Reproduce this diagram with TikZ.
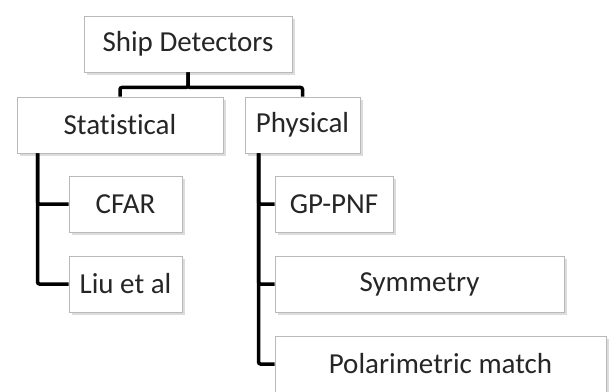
\documentclass[tikz,border=0pt]{standalone}
\usepackage{fontspec}
\setmainfont{Carlito}[Ligatures=NoCommon]
\usetikzlibrary{shadows}
\begin{document}
\begin{tikzpicture}[x=1pt,y=-1pt]
		\tikzstyle{all} = [draw=gray!55, line width=0.9pt, fill=white, text=black!85, font=\fontsize{29}{34}\selectfont]
		\tikzstyle{block} = [rectangle, all, inner sep=0pt, minimum height=56pt, drop shadow={shadow xshift=2.5pt, shadow yshift=-2.5pt, fill=gray!55}]
		\tikzstyle{branch} = [line width=3.5pt, rounded corners=2pt]
		\useasboundingbox (0,0) rectangle (613,391);
		\node[block, minimum width=208pt] (ship) at (188,44) {Ship Detectors};
		\node[block, minimum width=206pt] (stat) at (120,125) {Statistical};
		\node[block, minimum width=115pt] (phys) at (302.5,125) {Physical};
		\node[block, minimum width=113pt] (cfar) at (125.5,204) {CFAR};
		\node[block, minimum width=113pt] (liu) at (125.5,284) {Liu et al};
		\node[block, minimum width=118pt] (gppnf) at (334,204) {GP-PNF};
		\node[block, minimum width=289pt] (sym) at (419.5,284) {Symmetry};
		\node[block, minimum width=331pt] (polar) at (440.5,364) {Polarimetric match};
		% tree lines
		\draw[branch] (ship.south) -- ++(0,15) -| (stat.north);
		\draw[branch] (ship.south) -- ++(0,15) -| (phys.north);
		\coordinate (statstem) at ([xshift=21pt]stat.south west);
		\coordinate (physstem) at ([xshift=14pt]phys.south west);
		\draw[branch] (statstem) |- (cfar.west);
		\draw[branch] (statstem) |- (liu.west);
		\draw[branch] (physstem) |- (gppnf.west);
		\draw[branch] (physstem) |- (sym.west);
		\draw[branch] (physstem) |- (polar.west);
\end{tikzpicture}
\end{document}
